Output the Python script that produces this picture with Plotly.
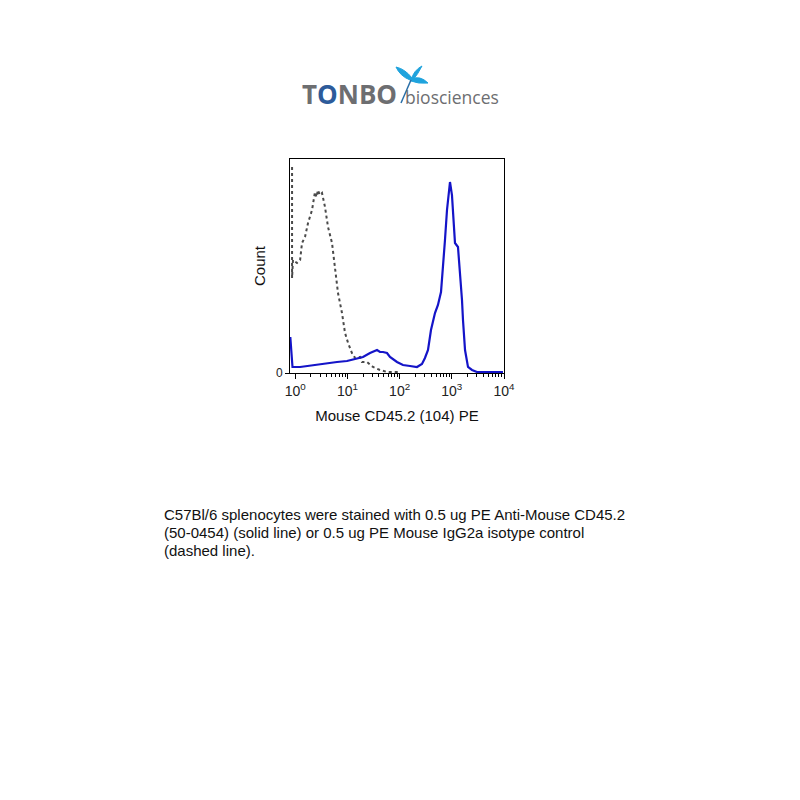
import plotly.graph_objects as go

# ---- data ----
iso_x = [0.87, 0.87, 0.906, 1.08, 1.24, 1.35, 1.54, 1.76, 2.10, 2.39, 2.55, 2.73, 2.95, 3.26, 3.72, 4.25,
         5.07, 5.78, 6.60, 7.87, 9.0, 10.3, 12.2, 14.0, 17.4, 19.0, 23.7, 30.9, 42.1, 57.3, 101.6]
iso_y = [206, 95, 113, 110, 113, 130, 136, 150, 163, 181, 176, 183, 178, 180, 166, 146,
         130, 106, 80, 60, 40, 30, 20, 15, 16, 11, 11, 6, 3, 1, 1]

cd_x = [0.805, 0.887, 1.24, 1.68, 2.19, 2.61, 4.06, 6.31, 9.8, 15.3, 19.9, 27.1, 36.9, 42.1, 48.1,
        57.3, 65.4, 89.1, 116, 158, 215, 268, 306, 350, 399, 476, 543, 621, 678, 740, 809,
        923, 1007, 1101, 1151, 1313, 1436, 1567, 1638, 1791, 2043, 2437, 3036, 9550]
cd_y = [36, 6, 6, 7, 8, 8, 10, 11, 12, 15, 16, 20, 23, 21, 21,
        20, 16, 11, 8, 7, 6, 9, 15, 23, 43, 60, 68, 81, 103, 133, 163,
        191, 178, 143, 130, 126, 103, 73, 53, 23, 6, 3, 1, 1]

tick_vals = [1, 10, 100, 1000, 10000]
tick_text = ["10<sup>0</sup>", "10<sup>1</sup>", "10<sup>2</sup>", "10<sup>3</sup>", "10<sup>4</sup>"]
minor_vals = [m * 10 ** d for d in range(0, 4) for m in range(2, 10)]

caption_lines = ["C57Bl/6 splenocytes were stained with 0.5 ug PE Anti-Mouse CD45.2",
                 "(50-0454) (solid line) or 0.5 ug PE Mouse IgG2a isotype control",
                 "(dashed line)."]

# ---- layout helpers (pixel -> paper) ----
L, R, T, B = 290, 504, 159, 373
W, H = R - L, B - T
def px(x):
    return (x - L) / W
def py(y):
    return (B - y) / H

FONT = "Liberation Sans, Arial, sans-serif"

fig = go.Figure()
fig.add_trace(go.Scatter(x=iso_x, y=iso_y, mode="lines",
                         line=dict(color="#4a4a4a", width=2, dash="dot"),
                         showlegend=False, hoverinfo="skip"))
fig.add_trace(go.Scatter(x=cd_x, y=cd_y, mode="lines",
                         line=dict(color="#1414c8", width=2.2),
                         showlegend=False, hoverinfo="skip"))

fig.update_layout(
    width=800, height=800,
    margin=dict(l=L, r=800 - R, t=T, b=800 - B),
    paper_bgcolor="white", plot_bgcolor="white",
    font=dict(family=FONT, color="black"),
    xaxis=dict(type="log", range=[-0.1, 4.0], showgrid=False, zeroline=False,
               showline=True, linecolor="black", linewidth=1, mirror=True,
               tickmode="array", tickvals=tick_vals, ticktext=tick_text,
               ticks="outside", ticklen=5, tickcolor="black", tickfont=dict(size=14, color="#222"),
               minor=dict(tickmode="array", tickvals=minor_vals, ticks="outside", ticklen=3,
                          tickcolor="black", showgrid=False),
               title=dict(text="Mouse CD45.2 (104) PE", font=dict(size=15, color="#111"), standoff=12)),
    yaxis=dict(range=[0, 214], showgrid=False, zeroline=False,
               showline=True, linecolor="black", linewidth=1, mirror=True,
               tickmode="array", tickvals=[0], ticktext=["0"],
               ticks="outside", ticklen=4, tickcolor="black", tickfont=dict(size=12, color="#222"),
               title=dict(text="Count", font=dict(size=15, color="#111"), standoff=6)),
)

# caption (one annotation per line for exact spacing)
for i, line in enumerate(caption_lines):
    fig.add_annotation(text=line, xref="paper", yref="paper", x=px(162), y=py(514 + 18 * i),
                       xanchor="left", yanchor="middle", align="left", showarrow=False,
                       font=dict(family=FONT, size=15, color="#111"))

# logo text
fig.add_annotation(text="T<span style='color:#2d5b9a'>O</span>NBO", xref="paper", yref="paper",
                   x=px(300), y=py(94), xanchor="left", yanchor="middle", showarrow=False,
                   font=dict(family="Open Sans, DejaVu Sans, sans-serif", size=26, color="#6d6e71",
                             weight="bold"))
fig.add_annotation(text="biosciences", xref="paper", yref="paper",
                   x=px(403), y=py(97), xanchor="left", yanchor="middle", showarrow=False,
                   font=dict(family="Open Sans, DejaVu Sans, sans-serif", size=17.5, color="#6d6e71"))

# dragonfly icon
def P(x, y):
    return f"{px(x):.4f},{py(y):.4f}"
wing1 = f"M {P(410,80)} Q {P(400,76)} {P(396,67)} Q {P(405,69)} {P(412,78)} Z"
wing2 = f"M {P(411,79)} Q {P(420,75)} {P(428,83)} Q {P(418,84)} {P(411,81)} Z"
wing3 = f"M {P(411,80)} Q {P(414,70)} {P(422,66)} Q {P(418,74)} {P(413,80)} Z"
tail = f"M {P(411,80)} L {P(401,103)}"
for pth in (wing1, wing2, wing3):
    fig.add_shape(type="path", path=pth, xref="paper", yref="paper",
                  fillcolor="#1fa3dd", line=dict(color="#1fa3dd", width=1))
fig.add_shape(type="path", path=tail, xref="paper", yref="paper",
              line=dict(color="#2a6fa8", width=1.5))

fig.write_html("out.html")
